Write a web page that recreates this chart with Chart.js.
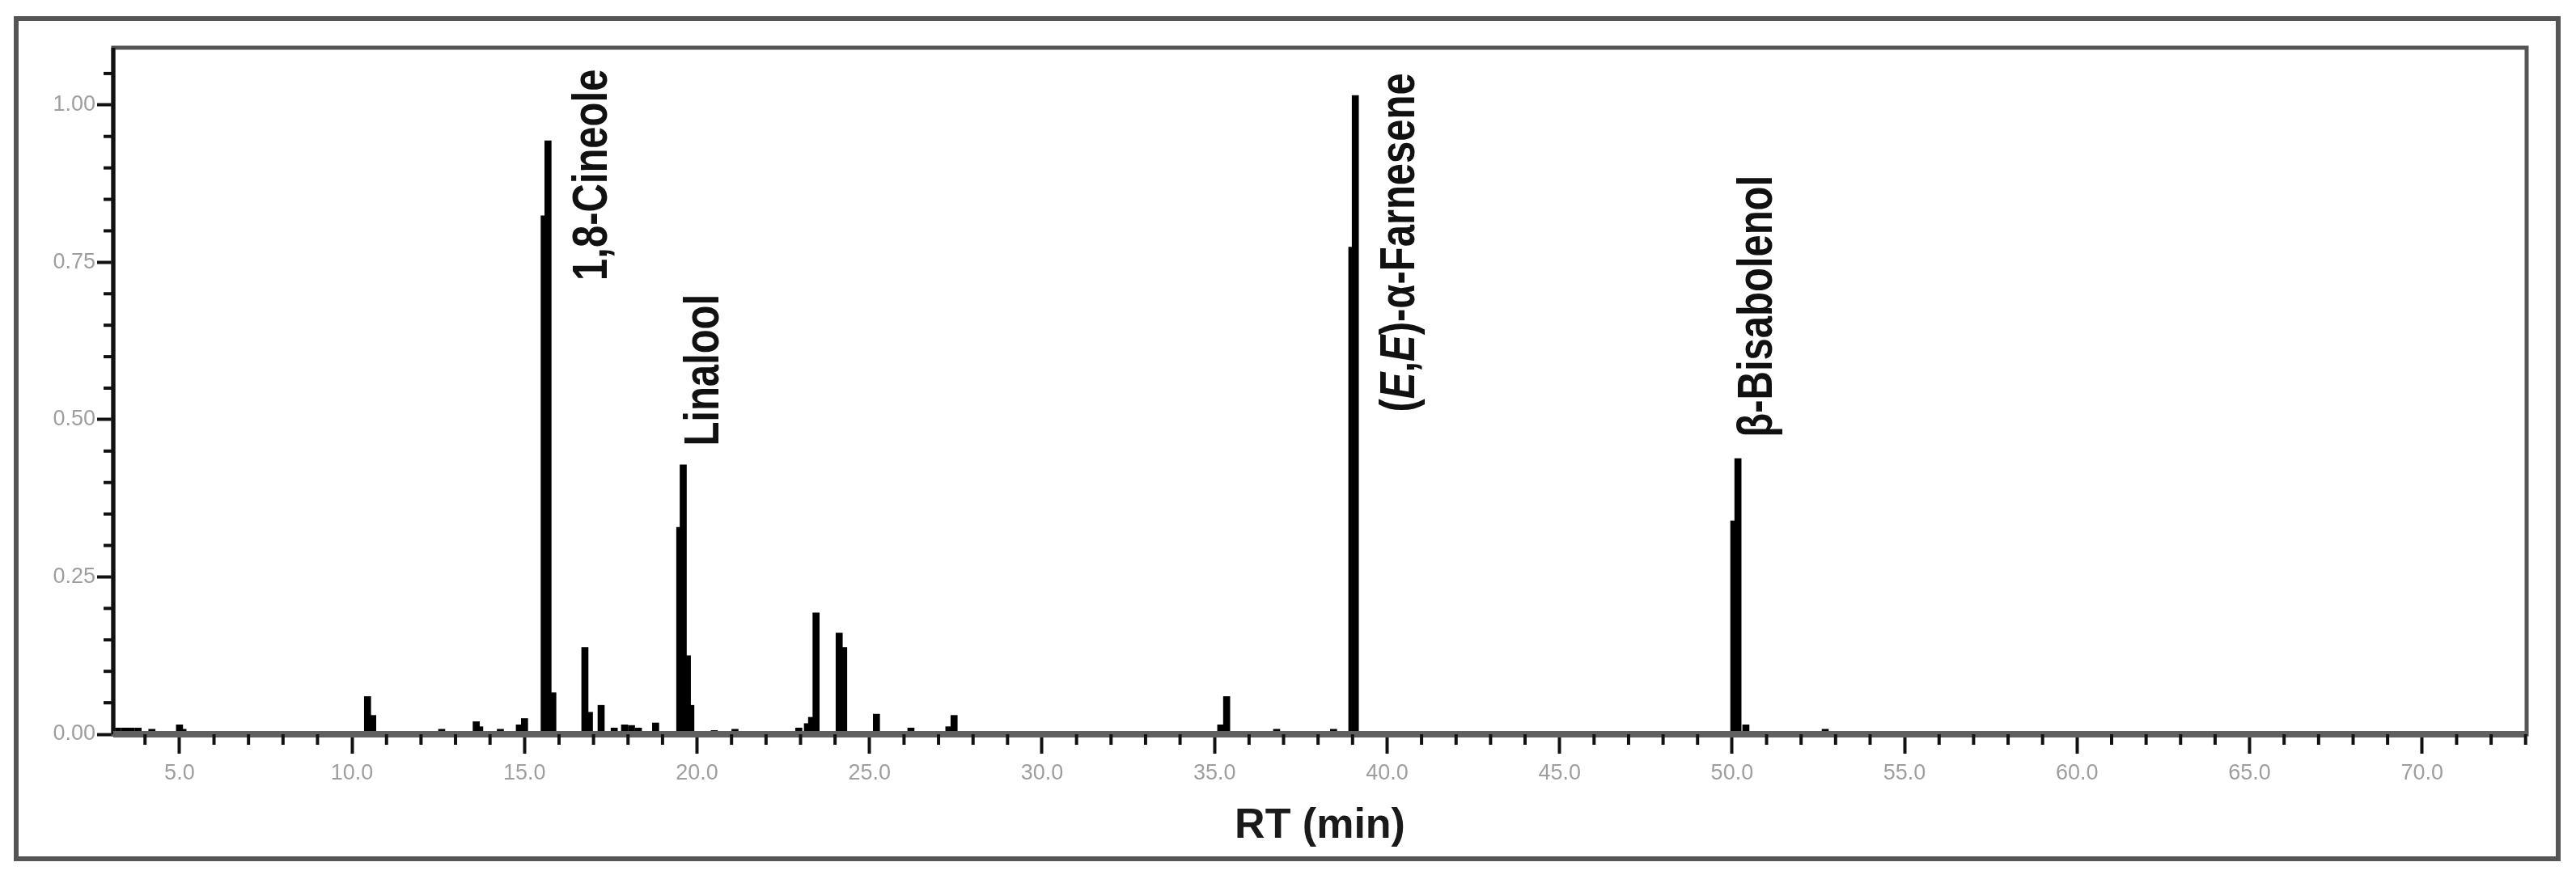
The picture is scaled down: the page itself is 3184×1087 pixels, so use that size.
<!DOCTYPE html>
<html>
<head>
<meta charset="utf-8">
<script src="https://cdn.jsdelivr.net/npm/chart.js@4.4.1/dist/chart.umd.min.js"></script>
<style>
  body { margin: 0; background: #fff; }
  #wrap { width: 3184px; height: 1087px; }
</style>
</head>
<body>
<div id="wrap"><canvas id="chart" width="3184" height="1087"></canvas></div>
<script>
// peaks of the chromatogram
const retentionTimes = [3.2, 3.4, 3.6, 3.8, 4.2, 5.0, 5.1, 10.45, 10.6, 12.6, 13.6, 13.7, 14.3, 14.85, 15.0,
  15.57, 15.68, 15.82, 16.75, 16.88, 17.22, 17.6, 17.9, 18.1, 18.3, 18.8,
  19.5, 19.6, 19.72, 19.82, 20.5, 21.1, 22.95, 23.2, 23.32, 23.45, 24.12, 24.25,
  25.2, 26.2, 27.3, 27.45, 35.18, 35.35, 36.8, 38.45, 38.98, 39.08,
  50.05, 50.17, 50.4, 52.7];
const abundances = [0.01, 0.01, 0.01, 0.01, 0.008, 0.015, 0.008, 0.06, 0.03, 0.008, 0.02, 0.012, 0.008, 0.015, 0.025,
  0.824, 0.943, 0.066, 0.138, 0.035, 0.046, 0.01, 0.015, 0.014, 0.01, 0.018,
  0.329, 0.428, 0.125, 0.046, 0.006, 0.008, 0.01, 0.017, 0.027, 0.193, 0.161, 0.138,
  0.032, 0.01, 0.012, 0.03, 0.015, 0.06, 0.008, 0.008, 0.774, 1.015,
  0.339, 0.438, 0.015, 0.008];

const xTicks = [5, 10, 15, 20, 25, 30, 35, 40, 45, 50, 55, 60, 65, 70];
const yTicks = [0, 0.25, 0.5, 0.75, 1.0];

// compound labels: text pieces [text, italic]
const peakNames = [
  [['1,8-Cineole', false]],
  [['Linalool', false]],
  [['(', false], ['E', true], [',', false], ['E', true], [')-', false], ['\u03b1', false], ['-Farnesene', false]],
  [['\u03b2-Bisabolenol', false]]
];
const labelTimes = [17.38, 20.62, 40.78, 51.14];
const labelLevels = [0.721, 0.458, 0.512, 0.472];

const FONT = "'Liberation Sans', Arial, sans-serif";

const frames = {
  id: 'frames',
  beforeDraw(chart) {
    const ctx = chart.ctx;
    ctx.save();
    ctx.strokeStyle = '#555';
    ctx.lineWidth = 6;
    ctx.strokeRect(20, 23, 3162 - 20, 1062 - 23);
    ctx.restore();
  },
  afterDraw(chart) {
    const {ctx, chartArea: a, scales: {x, y}} = chart;
    ctx.save();
    // plot box
    ctx.strokeStyle = '#555';
    ctx.lineWidth = 5;
    ctx.strokeRect(a.left, a.top, a.right - a.left, a.bottom - a.top);
    ctx.strokeStyle = '#111';
    ctx.beginPath(); ctx.moveTo(a.left, a.top); ctx.lineTo(a.left, a.bottom); ctx.stroke();
    ctx.strokeStyle = '#606060';
    ctx.lineWidth = 8;
    ctx.beginPath(); ctx.moveTo(a.left, a.bottom); ctx.lineTo(a.right, a.bottom); ctx.stroke();

    // minor ticks
    ctx.strokeStyle = '#111';
    ctx.lineWidth = 4;
    for (let v = 4; v <= 73; v++) {
      if (v % 5 === 0) continue;
      const px = x.getPixelForValue(v);
      ctx.beginPath(); ctx.moveTo(px, a.bottom); ctx.lineTo(px, a.bottom + 13); ctx.stroke();
    }
    for (let k = 1; k <= 21; k++) {
      if (k % 5 === 0) continue;
      const py = y.getPixelForValue(k * 0.05);
      ctx.beginPath(); ctx.moveTo(a.left - 12, py); ctx.lineTo(a.left, py); ctx.stroke();
    }

    // rotated compound names
    ctx.fillStyle = '#111';
    ctx.textBaseline = 'alphabetic';
    ctx.textAlign = 'left';
    for (let i = 0; i < peakNames.length; i++) {
      ctx.save();
      ctx.translate(x.getPixelForValue(labelTimes[i]), y.getPixelForValue(labelLevels[i]));
      ctx.rotate(-Math.PI / 2);
      ctx.scale(0.79, 1);
      let off = 0;
      for (const [t, it] of peakNames[i]) {
        ctx.font = (it ? 'italic ' : '') + 'bold 62px ' + FONT;
        ctx.fillText(t, off, 0);
        off += ctx.measureText(t).width;
      }
      ctx.restore();
    }
    ctx.restore();
  }
};

const ctx = document.getElementById('chart');

new Chart(ctx, {
  type: 'bar',
  data: {
    datasets: [{
      data: retentionTimes.map((t, i) => ({x: t, y: abundances[i]})),
      backgroundColor: '#000',
      borderWidth: 0,
      barThickness: 8
    }]
  },
  options: {
    responsive: false,
    animation: false,
    devicePixelRatio: 1,
    layout: {padding: {left: 0, top: 59, right: 61, bottom: 0}},
    plugins: {legend: {display: false}, tooltip: {enabled: false}},
    scales: {
      x: {
        type: 'linear',
        min: 3.08,
        max: 73.03,
        offset: false,
        border: {display: false},
        grid: {display: true, offset: false, drawOnChartArea: false, drawTicks: true,
               tickLength: 24, tickWidth: 4, tickColor: '#111'},
        afterBuildTicks: s => { s.ticks = xTicks.map(v => ({value: v})); },
        afterFit: s => { s.height = 179; },
        ticks: {
          callback: v => v.toFixed(1),
          color: '#9e9e9e',
          font: {family: FONT, size: 27},
          padding: 8,
          maxRotation: 0,
          autoSkip: false
        },
        title: {
          display: true,
          text: 'RT (min)',
          color: '#1a1a1a',
          font: {family: FONT, size: 52, weight: 'bold'},
          padding: {top: 0, bottom: 34}
        }
      },
      y: {
        min: 0,
        max: 1.091,
        border: {display: false},
        grid: {display: true, drawOnChartArea: false, drawTicks: true,
               tickLength: 20, tickWidth: 4, tickColor: '#111'},
        afterBuildTicks: s => { s.ticks = yTicks.map(v => ({value: v})); },
        afterFit: s => { s.width = 140; },
        ticks: {
          callback: v => v.toFixed(2),
          color: '#9e9e9e',
          font: {family: FONT, size: 27},
          padding: 2,
          autoSkip: false
        }
      }
    }
  },
  plugins: [frames]
});
</script>
</body>
</html>
